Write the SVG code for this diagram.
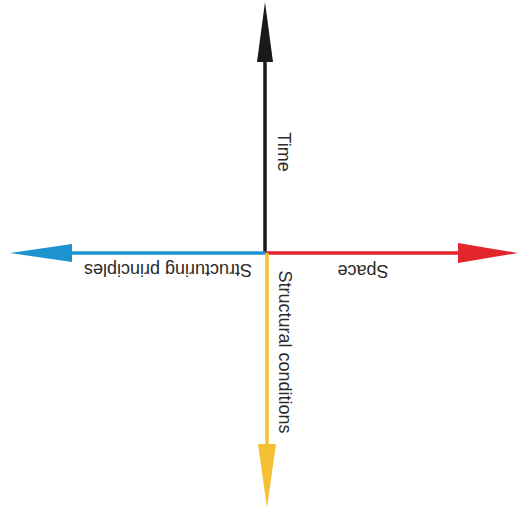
<svg xmlns="http://www.w3.org/2000/svg" width="522" height="515" viewBox="0 0 522 515">
<style>
.t{font-family:"Liberation Sans",Arial,sans-serif;font-size:18px;fill:#2a2a2a;text-anchor:middle;dominant-baseline:central}
.ln{stroke-width:3.5;fill:none}
.k{stroke:#1a1a1a}.kf{fill:#1a1a1a}
.r{stroke:#e3262b}.rf{fill:#e3262b}
.b{stroke:#1c93cf}.bf{fill:#1c93cf}
.y{stroke:#f4c136}.yf{fill:#f4c136}
</style>
<rect width="522" height="515" fill="#ffffff"/>
<g id="connectors">
<g id="time-axis"><line class="ln k" x1="265" y1="253" x2="265" y2="58"/><polygon class="kf" points="265,2 273,62 257,62"/></g>
<g id="space-axis"><line class="ln r" x1="265" y1="253" x2="462" y2="253"/><polygon class="rf" points="518,253 458,243 458,263"/></g>
<g id="principles-axis"><line class="ln b" x1="265" y1="253" x2="70" y2="253"/><polygon class="bf" points="10,253 72,244 72,262"/></g>
<g id="conditions-axis"><line class="ln y" x1="267" y1="253" x2="267" y2="448"/><polygon class="yf" points="267,508 258,444 276,444"/></g>
</g>
<g id="time"><text class="t" transform="translate(284,152) rotate(90)">Time</text></g>
<g id="space"><text class="t" transform="translate(363,271) rotate(180)">Space</text></g>
<g id="structuring-principles"><text class="t" transform="translate(168,270) rotate(180)">Structuring principles</text></g>
<g id="structural-conditions"><text class="t" transform="translate(285,352) rotate(90)">Structural conditions</text></g>
</svg>
